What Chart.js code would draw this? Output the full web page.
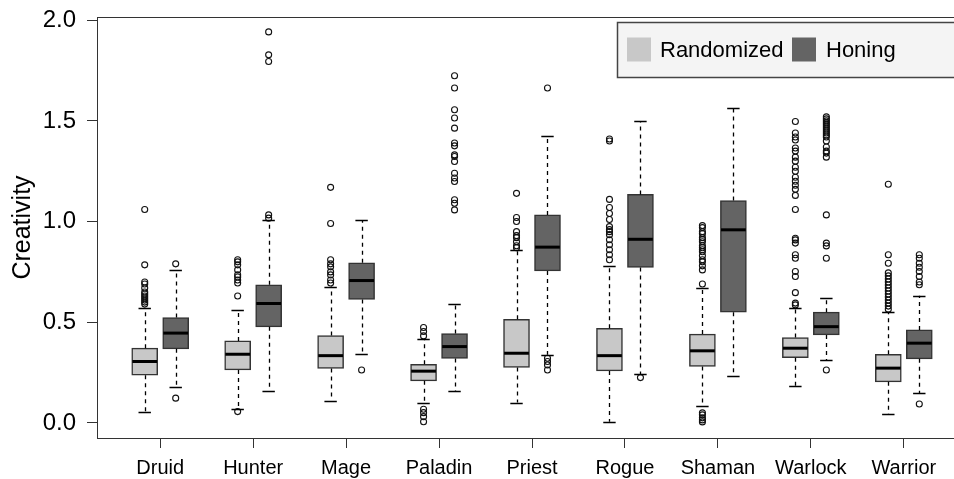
<!DOCTYPE html>
<html>
<head>
<meta charset="utf-8">
<script src="https://cdn.jsdelivr.net/npm/chart.js@4.4.1/dist/chart.umd.min.js"></script>
<style>
  html, body { margin: 0; padding: 0; overflow: hidden; background: #fff; }
</style>
</head>
<body>
<canvas id="boxChart" width="954" height="479"></canvas>
<script>
// categories and y ticks
const categories = ['Druid', 'Hunter', 'Mage', 'Paladin', 'Priest', 'Rogue', 'Shaman', 'Warlock', 'Warrior'];
const yTicks = [0.0, 0.5, 1.0, 1.5, 2.0];

// Randomized boxes (lower whisker, q1, median, q3, upper whisker)
const randLo  = [0.056, 0.070, 0.111, 0.101, 0.101, 0.006, 0.086, 0.184, 0.043];
const randQ1  = [0.237, 0.263, 0.270, 0.209, 0.275, 0.258, 0.280, 0.324, 0.204];
const randMed = [0.305, 0.341, 0.334, 0.257, 0.346, 0.334, 0.358, 0.371, 0.272];
const randQ3  = [0.371, 0.407, 0.434, 0.291, 0.515, 0.470, 0.441, 0.424, 0.341];
const randHi  = [0.570, 0.560, 0.677, 0.416, 0.859, 0.780, 0.669, 0.573, 0.550];

// Honing boxes
const honLo  = [0.177, 0.160, 0.341, 0.156, 0.338, 0.242, 0.233, 0.313, 0.147];
const honQ1  = [0.368, 0.477, 0.613, 0.320, 0.755, 0.772, 0.550, 0.437, 0.318];
const honMed = [0.446, 0.593, 0.707, 0.379, 0.873, 0.912, 0.959, 0.478, 0.396];
const honQ3  = [0.523, 0.686, 0.795, 0.444, 1.033, 1.135, 1.104, 0.550, 0.462];
const honHi  = [0.757, 1.008, 1.008, 0.593, 1.427, 1.500, 1.566, 0.619, 0.631];

// outliers, one list per class
const randOut = [
  [1.06, 0.785, 0.70, 0.69, 0.67, 0.65, 0.64, 0.63, 0.62, 0.61, 0.60, 0.59],
  [0.056, 0.81, 0.80, 0.785, 0.76, 0.735, 0.725, 0.71, 0.695, 0.63],
  [1.17, 0.99, 0.81, 0.79, 0.775, 0.75, 0.735, 0.71, 0.695],
  [0.474, 0.454, 0.432, 0.068, 0.051, 0.031, 0.006],
  [1.14, 1.02, 1.00, 0.95, 0.93, 0.92, 0.90, 0.88, 0.87],
  [1.41, 1.40, 1.11, 1.07, 1.04, 1.01, 0.975, 0.96, 0.95, 0.935, 0.91, 0.885, 0.86, 0.835, 0.81],
  [0.98, 0.97, 0.95, 0.94, 0.92, 0.91, 0.90, 0.88, 0.87, 0.86, 0.85, 0.83, 0.81, 0.80, 0.78, 0.76, 0.69, 0.05, 0.04, 0.025, 0.015, 0.005],
  [1.497, 1.44, 1.42, 1.405, 1.365, 1.35, 1.32, 1.30, 1.27, 1.25, 1.22, 1.20, 1.18, 1.16, 1.13, 1.06, 0.917, 0.909, 0.893, 0.835, 0.818, 0.752, 0.727, 0.647, 0.595, 0.586],
  [1.185, 0.835, 0.793, 0.745, 0.73, 0.715, 0.70, 0.685, 0.67, 0.655, 0.64, 0.625, 0.61, 0.595, 0.58, 0.565]
];
const honOut = [
  [0.79, 0.123],
  [1.942, 1.828, 1.795, 1.033, 1.017],
  [0.263],
  [1.724, 1.663, 1.555, 1.514, 1.464, 1.39, 1.376, 1.331, 1.323, 1.298, 1.24, 1.216, 1.199, 1.108, 1.091, 1.058],
  [1.663, 0.321, 0.305, 0.288, 0.263],
  [0.225],
  [],
  [1.52, 1.51, 1.50, 1.49, 1.48, 1.47, 1.46, 1.45, 1.44, 1.43, 1.42, 1.40, 1.37, 1.35, 1.34, 1.32, 1.033, 0.893, 0.879, 0.818, 0.263],
  [0.835, 0.818, 0.793, 0.773, 0.752, 0.727, 0.70, 0.686, 0.094]
];

const randColor = '#c8c8c8';
const honColor = '#646464';
const lineColor = '#333';
const fontFamily = '"Liberation Sans", Arial, sans-serif';

// box positions like R's boxplot(at=...): pairs 1,2 | 4,5 | ...
const randPos = categories.map((c, i) => 1 + 3 * i);
const honPos = categories.map((c, i) => 2 + 3 * i);
const groupPos = categories.map((c, i) => 1.5 + 3 * i);

function boxData(pos, q1, q3) {
  return pos.map((x, i) => ({ x: x, y: [q1[i], q3[i]] }));
}
function outData(pos, out) {
  const pts = [];
  out.forEach((list, i) => list.forEach(v => pts.push({ x: pos[i], y: v })));
  return pts;
}

// whiskers, staples and medians
const boxExtras = {
  id: 'boxExtras',
  afterDatasetsDraw(chart) {
    const ctx = chart.ctx;
    const xs = chart.scales.x, ys = chart.scales.y;
    const series = [
      [randPos, randLo, randQ1, randMed, randQ3, randHi],
      [honPos, honLo, honQ1, honMed, honQ3, honHi]
    ];
    ctx.save();
    series.forEach(([pos, lo, q1, med, q3, hi]) => {
      pos.forEach((p, i) => {
        const cx = Math.round(xs.getPixelForValue(p)) + 0.5;
        const s0 = xs.getPixelForValue(p - 0.2), s1 = xs.getPixelForValue(p + 0.2);
        ctx.strokeStyle = '#000';
        ctx.lineWidth = 1.3;
        ctx.setLineDash([4, 4]);
        ctx.beginPath();
        ctx.moveTo(cx, ys.getPixelForValue(q3[i]));
        ctx.lineTo(cx, ys.getPixelForValue(hi[i]));
        ctx.moveTo(cx, ys.getPixelForValue(q1[i]));
        ctx.lineTo(cx, ys.getPixelForValue(lo[i]));
        ctx.stroke();
        ctx.setLineDash([]);
        ctx.beginPath();
        const yh = Math.round(ys.getPixelForValue(hi[i])) + 0.5;
        const yl = Math.round(ys.getPixelForValue(lo[i])) + 0.5;
        ctx.moveTo(s0, yh); ctx.lineTo(s1, yh);
        ctx.moveTo(s0, yl); ctx.lineTo(s1, yl);
        ctx.stroke();
        // median
        ctx.strokeStyle = '#000';
        ctx.lineWidth = 3;
        ctx.beginPath();
        const ym = ys.getPixelForValue(med[i]);
        ctx.moveTo(xs.getPixelForValue(p - 0.4), ym);
        ctx.lineTo(xs.getPixelForValue(p + 0.4), ym);
        ctx.stroke();
      });
    });
    ctx.restore();
  },
  afterDraw(chart) {
    const ctx = chart.ctx;
    const a = chart.chartArea;
    ctx.save();
    // top edge of the plot box (right edge falls outside the picture)
    ctx.strokeStyle = lineColor;
    ctx.lineWidth = 1;
    ctx.beginPath();
    ctx.moveTo(a.left, Math.round(a.top) + 0.5);
    ctx.lineTo(a.right + 20, Math.round(a.top) + 0.5);
    ctx.stroke();
    // legend box (top right, like R's legend)
    const lx = 617.5, ly = Math.round(a.top) + 5.5, lw = 400, lh = 55;
    ctx.fillStyle = '#f4f4f4';
    ctx.fillRect(lx, ly, lw, lh);
    ctx.strokeStyle = '#444';
    ctx.lineWidth = 1.5;
    ctx.strokeRect(lx, ly, lw, lh);
    ctx.font = '22px ' + fontFamily;
    ctx.textBaseline = 'middle';
    ctx.textAlign = 'left';
    ctx.fillStyle = randColor;
    ctx.fillRect(627, ly + 15, 24, 24);
    ctx.fillStyle = '#000';
    ctx.fillText('Randomized', 660, ly + 28);
    ctx.fillStyle = honColor;
    ctx.fillRect(792, ly + 15, 24, 24);
    ctx.fillStyle = '#000';
    ctx.fillText('Honing', 826, ly + 28);
    ctx.restore();
  }
};

const ctx = document.getElementById('boxChart');

new Chart(ctx, {
  type: 'bar',
  data: {
    datasets: [
      {
        label: 'Randomized',
        data: boxData(randPos, randQ1, randQ3),
        backgroundColor: randColor,
        borderColor: lineColor,
        borderWidth: 1.5,
        borderSkipped: false,
        barThickness: 26,
        grouped: false
      },
      {
        label: 'Honing',
        data: boxData(honPos, honQ1, honQ3),
        backgroundColor: honColor,
        borderColor: lineColor,
        borderWidth: 1.5,
        borderSkipped: false,
        barThickness: 26,
        grouped: false
      },
      {
        type: 'scatter',
        label: 'Randomized outliers',
        data: outData(randPos, randOut),
        pointRadius: 3,
        pointBorderWidth: 1.1,
        pointBackgroundColor: 'rgba(0,0,0,0)',
        pointBorderColor: '#111'
      },
      {
        type: 'scatter',
        label: 'Honing outliers',
        data: outData(honPos, honOut),
        pointRadius: 3,
        pointBorderWidth: 1.1,
        pointBackgroundColor: 'rgba(0,0,0,0)',
        pointBorderColor: '#111'
      }
    ]
  },
  options: {
    responsive: false,
    animation: false,
    layout: { autoPadding: false, padding: { left: 0, top: 17, right: 0, bottom: 0 } },
    plugins: {
      legend: { display: false },
      tooltip: { enabled: false }
    },
    scales: {
      x: {
        type: 'linear',
        offset: false,
        min: -0.54,
        max: 27.12,
        afterBuildTicks: (scale) => { scale.ticks = groupPos.map(v => ({ value: v })); },
        afterFit: (scale) => { scale.height = 41; scale.paddingLeft = 0; scale.paddingRight = 0; },
        grid: { display: true, drawOnChartArea: false, drawTicks: true, tickLength: 10, tickColor: lineColor, offset: false },
        border: { display: true, color: lineColor, width: 1 },
        ticks: {
          autoSkip: false,
          maxRotation: 0,
          padding: 8,
          color: '#000',
          font: { family: fontFamily, size: 20 },
          callback: (value, index) => categories[index]
        }
      },
      y: {
        min: -0.075,
        max: 2.016,
        afterBuildTicks: (scale) => { scale.ticks = yTicks.map(v => ({ value: v })); },
        afterFit: (scale) => { scale.width = 97; scale.paddingTop = 0; scale.paddingBottom = 0; },
        grid: { display: true, drawOnChartArea: false, drawTicks: true, tickLength: 10, tickColor: lineColor },
        border: { display: true, color: lineColor, width: 1 },
        title: {
          display: true,
          text: 'Creativity',
          color: '#000',
          font: { family: fontFamily, size: 25 },
          padding: { top: 8, bottom: 0 }
        },
        ticks: {
          padding: 11,
          color: '#000',
          font: { family: fontFamily, size: 24 },
          callback: (value) => value.toFixed(1)
        }
      }
    }
  },
  plugins: [boxExtras]
});
</script>
</body>
</html>
